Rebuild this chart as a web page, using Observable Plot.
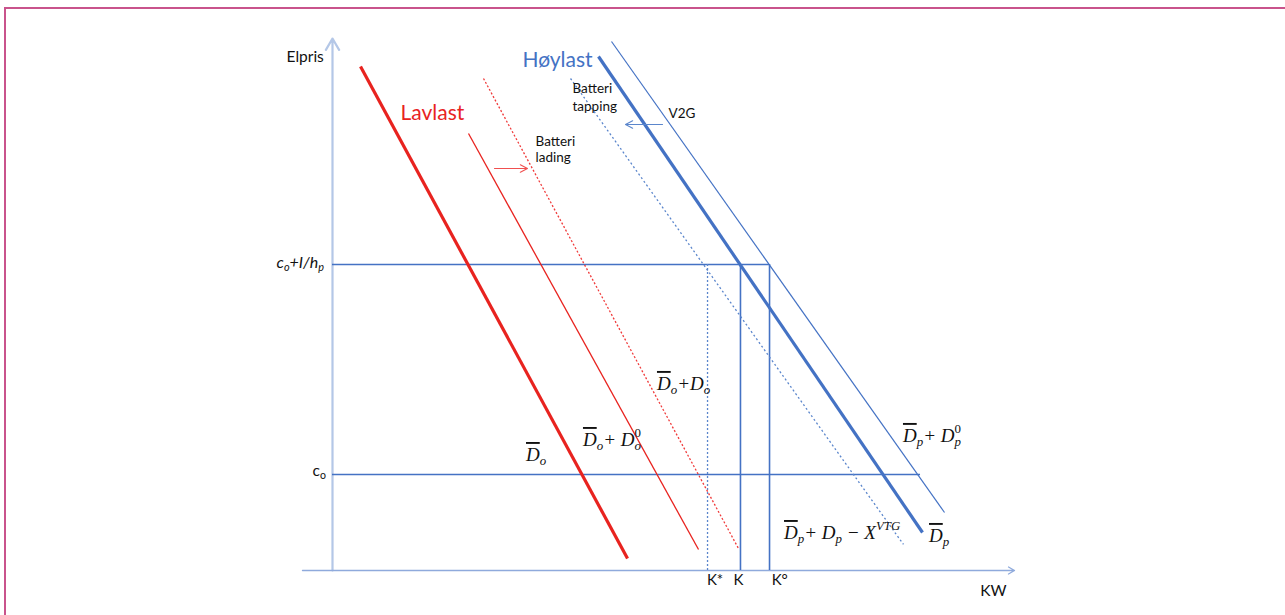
<!DOCTYPE html>
<html>
<head>
<meta charset="utf-8">
<script src="https://cdn.jsdelivr.net/npm/d3@7"></script>
<script src="https://cdn.jsdelivr.net/npm/@observablehq/plot@0.6"></script>
<style>
  html, body { margin: 0; padding: 0; background: #fff; overflow: hidden; }
  #wrap { position: relative; width: 1285px; height: 615px; }
  #chart { position: absolute; left: 0; top: 0; }
  #frame { position: absolute; left: 4px; top: 7px; width: 1281px; height: 608px;
           border-left: 2px solid #c9538c; border-top: 2px solid #c9538c; box-sizing: border-box; pointer-events: none; }
</style>
</head>
<body>
<div id="wrap"><div id="chart"></div><div id="frame"></div></div>
<script>
// ---- data (chart units: KW on x 0..100, Elpris on y 0..100) ----
const curveNames = ["Do", "Do+Do0", "Do+Do", "Dp", "Dp+Dp0", "Dp+Dp-XVTG"];
const curveX1 = [4.11, 19.94, 22.14, 39.00, 40.91, 34.90];
const curveY1 = [95.09, 82.45, 92.83, 96.98, 99.81, 92.83];
const curveX2 = [43.26, 53.67, 59.53, 86.51, 89.74, 83.72];
const curveY2 = [2.26, 3.96, 4.15, 7.17, 10.94, 4.91];

const priceNames = ["co", "co+I/hp"];
const priceLevels = [18.11, 57.74];
const priceLineEnds = [86.22, 64.08];

const capacityNames = ["K*", "K", "K°"];
const capacityValues = [54.99, 59.82, 64.08];

const shiftNames = ["Batteri lading", "V2G"];
const shiftFrom = [23.75, 48.39];
const shiftTo = [28.59, 42.96];
const shiftLevel = [75.85, 84.15];

const axisTitles = ["Elpris", "KW"];
const loadTitles = ["Lavlast", "Høylast"];

// ---- derived tables ----
const curves = curveNames.map((n, i) => ({name: n, x1: curveX1[i], y1: curveY1[i], x2: curveX2[i], y2: curveY2[i]}));
const prices = priceNames.map((n, i) => ({name: n, y: priceLevels[i], xEnd: priceLineEnds[i]}));
const caps = capacityNames.map((n, i) => ({name: n, x: capacityValues[i], top: priceLevels[1]}));
const shifts = shiftNames.map((n, i) => ({name: n, x1: shiftFrom[i], x2: shiftTo[i], y: shiftLevel[i]}));
const pick = (names) => curves.filter(d => names.includes(d.name));

const RED = "#e8231f", BLUE = "#4472c4";
const sans = "Lato, 'Open Sans', sans-serif";

const plot = Plot.plot({
  width: 1285, height: 615,
  x: {domain: [0, 100], range: [332, 1014]},
  y: {domain: [0, 100], range: [570, 40]},
  axis: null,
  style: {background: "transparent", fontFamily: sans},
  marks: [
    // axes
    Plot.arrow([{x1: 0, y1: 0, x2: 0, y2: 100.38}], {x1: "x1", y1: "y1", x2: "x2", y2: "y2", stroke: "#b4c7e7", strokeWidth: 2.2, headLength: 9, headAngle: 60}),
    Plot.arrow([{x1: -4.4, y1: 0, x2: 100, y2: 0}], {x1: "x1", y1: "y1", x2: "x2", y2: "y2", stroke: "#8faadc", strokeWidth: 1.3, headLength: 8, headAngle: 60}),
    // price levels
    Plot.ruleY(prices, {y: "y", x1: 0, x2: "xEnd", stroke: BLUE, strokeWidth: 1.3}),
    // capacities
    Plot.ruleX(caps.filter(d => d.name !== "K*"), {x: "x", y1: 0, y2: "top", stroke: BLUE, strokeWidth: 1.6}),
    Plot.ruleX(caps.filter(d => d.name === "K*"), {x: "x", y1: 0, y2: "top", stroke: "#5b86cc", strokeWidth: 1.3, strokeDasharray: "2,2"}),
    // low-load curves
    Plot.link(pick(["Do"]), {x1: "x1", y1: "y1", x2: "x2", y2: "y2", stroke: RED, strokeWidth: 3.2}),
    Plot.link(pick(["Do+Do0"]), {x1: "x1", y1: "y1", x2: "x2", y2: "y2", stroke: RED, strokeWidth: 1.3}),
    Plot.link(pick(["Do+Do"]), {x1: "x1", y1: "y1", x2: "x2", y2: "y2", stroke: "#f03a3a", strokeWidth: 1.3, strokeDasharray: "2,2"}),
    // peak-load curves
    Plot.link(pick(["Dp"]), {x1: "x1", y1: "y1", x2: "x2", y2: "y2", stroke: BLUE, strokeWidth: 3.2}),
    Plot.link(pick(["Dp+Dp0"]), {x1: "x1", y1: "y1", x2: "x2", y2: "y2", stroke: BLUE, strokeWidth: 1.2}),
    Plot.link(pick(["Dp+Dp-XVTG"]), {x1: "x1", y1: "y1", x2: "x2", y2: "y2", stroke: "#5b86cc", strokeWidth: 1.3, strokeDasharray: "2,2.5"}),
    // shift arrows
    Plot.arrow(shifts.filter(d => d.name === "Batteri lading"), {x1: "x1", x2: "x2", y1: "y", y2: "y", stroke: "#f05050", strokeWidth: 1.1, headLength: 11, headAngle: 55}),
    Plot.arrow(shifts.filter(d => d.name === "V2G"), {x1: "x1", x2: "x2", y1: "y", y2: "y", stroke: "#5b86cc", strokeWidth: 1.1, headLength: 11, headAngle: 55}),
    // text labels
    Plot.text([axisTitles[0]], {x: -6.74, y: 96.79, text: d => d, textAnchor: "start", fontSize: 15.5, fill: "#111"}),
    Plot.text([axisTitles[1]], {x: 96.92, y: -3.96, text: d => d, textAnchor: "middle", fontSize: 15.5, fill: "#111"}),
    Plot.text([loadTitles[1]], {x: 27.86, y: 96.23, text: d => d, textAnchor: "start", fontSize: 21, fill: BLUE}),
    Plot.text([loadTitles[0]], {x: 9.97, y: 86.23, text: d => d, textAnchor: "start", fontSize: 21, fill: RED}),
    Plot.text(["Batteri", "tapping"], {x: 35.19, y: (d, i) => [90.94, 87.55][i], text: d => d, textAnchor: "start", fontSize: 13.5, fill: "#111"}),
    Plot.text(["Batteri", "lading"], {x: 29.77, y: (d, i) => [80.94, 77.92][i], text: d => d, textAnchor: "start", fontSize: 13.5, fill: "#111"}),
    Plot.text([shiftNames[1]], {x: 49.27, y: 86.23, text: d => d, textAnchor: "start", fontSize: 13.5, fill: "#111"}),
    Plot.text(caps, {x: d => d.x + [1.1, -0.3, 1.5][capacityNames.indexOf(d.name)], y: -1.89, text: "name", textAnchor: "middle", fontSize: 15, fill: "#111"})
  ]
});
document.getElementById("chart").appendChild(plot);

// ---- math labels (placed through the plot's scales) ----
const sx = plot.scale("x"), sy = plot.scale("y");
const svg = d3.select(plot);
const g = svg.append("g");

function mathLabel(xv, yv, parts, opts) {
  const size = opts.size;
  const t = g.append("text")
    .attr("x", sx.apply(xv)).attr("y", sy.apply(yv))
    .attr("font-family", opts.family).attr("font-size", size)
    .attr("font-style", opts.italic ? "italic" : "normal")
    .attr("text-anchor", opts.anchor || "start")
    .attr("dominant-baseline", "middle")
    .attr("fill", "#111");
  let cur = 0;
  const shift = (target) => { const d = target - cur; cur = target; return d; };
  for (const p of parts) {
    if (p.sub && p.sup) {
      const a = t.append("tspan").text(p.sub).attr("font-size", size * 0.68).attr("dy", shift(size * 0.28));
      const w = a.node().getComputedTextLength();
      t.append("tspan").text(p.sup).attr("font-size", size * 0.68).attr("font-style", "normal").attr("dx", -w).attr("dy", shift(-size * 0.42));
    } else if (p.sub) {
      t.append("tspan").text(p.sub).attr("font-size", size * 0.68).attr("dy", shift(size * 0.28));
    } else if (p.sup) {
      t.append("tspan").text(p.sup).attr("font-size", size * 0.68).attr("dy", shift(-size * 0.42));
    } else {
      const s = t.append("tspan").text(p.t).attr("dy", shift(0));
      if (p.bar) s.style("text-decoration", "overline");
    }
  }
}
const M = {family: "'Liberation Serif', 'DejaVu Serif', serif", italic: true, size: 19};
mathLabel(28.45, 21.32, [{t: "D", bar: true}, {sub: "o"}], M);
mathLabel(36.80, 24.15, [{t: "D", bar: true}, {sub: "o"}, {t: "+ D"}, {sub: "o", sup: "0"}], M);
mathLabel(47.65, 34.72, [{t: "D", bar: true}, {sub: "o"}, {t: "+D"}, {sub: "o"}], M);
mathLabel(83.72, 24.91, [{t: "D", bar: true}, {sub: "p"}, {t: "+ D"}, {sub: "p", sup: "0"}], M);
mathLabel(87.54, 6.04, [{t: "D", bar: true}, {sub: "p"}], M);
mathLabel(66.28, 6.60, [{t: "D", bar: true}, {sub: "p"}, {t: "+ D"}, {sub: "p"}, {t: " − X"}, {sup: "VTG"}], M);
mathLabel(-1.17, 57.74, [{t: "c"}, {sub: "o"}, {t: "+I/h"}, {sub: "p"}], {family: sans, italic: true, size: 16, anchor: "end"});
mathLabel(-0.88, 18.49, [{t: "c"}, {sub: "o"}], {family: sans, italic: false, size: 15.5, anchor: "end"});
</script>
</body>
</html>
